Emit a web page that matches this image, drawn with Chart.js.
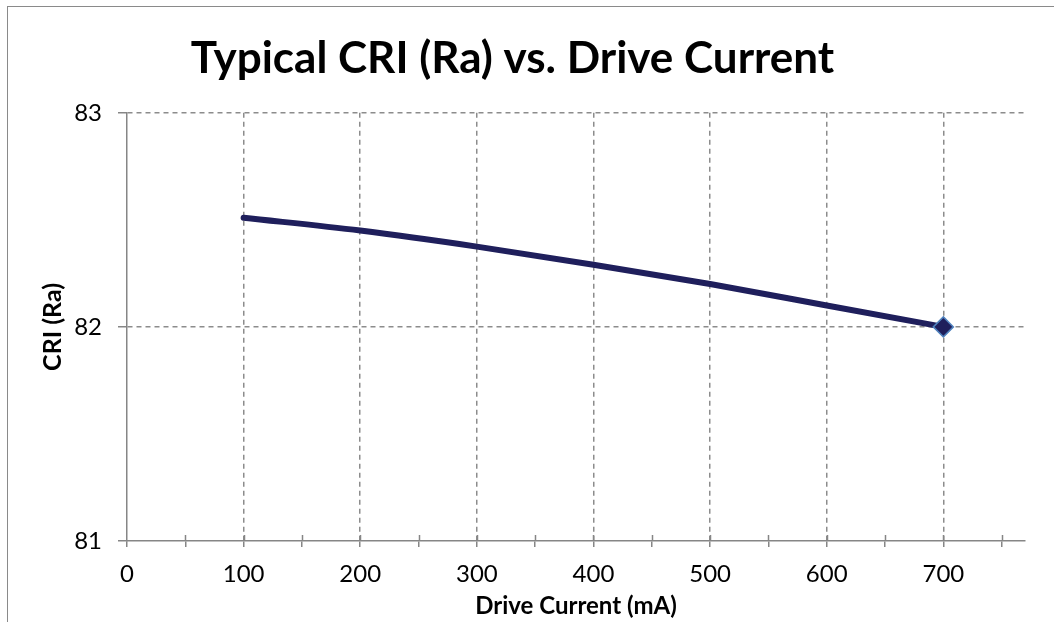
<!DOCTYPE html>
<html>
<head>
<meta charset="utf-8">
<script src="https://cdn.jsdelivr.net/npm/chart.js@4"></script>
<style>
  html, body { margin: 0; padding: 0; background: #fff; }
  #wrap { position: relative; width: 1054px; height: 622px; overflow: hidden; }
  #frame { position: absolute; left: 7px; top: 6px; width: 1100px; height: 700px; border: 1.5px solid #8a8a8a; box-sizing: border-box; }
  canvas { position: absolute; left: 0; top: 0; }
</style>
</head>
<body>
<div id="wrap">
  <div id="frame"></div>
  <canvas id="chart" width="1054" height="622"></canvas>
</div>
<script>
// drive current in mA, CRI
const currents = [100, 200, 300, 400, 500, 600, 700];
const cri = [82.51, 82.45, 82.375, 82.29, 82.2, 82.1, 82.0];
// only the last point carries a marker
const markerSize = [0, 0, 0, 0, 0, 0, 10];

const xTicks = [0, 100, 200, 300, 400, 500, 600, 700];
const yTicks = [81, 82, 83];

const gridColor = '#8c8c8c';
const axisColor = '#868686';
const font = 'Lato';

// excel style cross ticks: draw the inner half of each tick mark
const crossTicks = {
  id: 'crossTicks',
  afterDraw(c) {
    const ctx = c.ctx;
    const xs = c.scales.x;
    ctx.save();
    ctx.strokeStyle = axisColor;
    ctx.lineWidth = 1.5;
    xs.ticks.forEach(t => {
      if (t.value % 50 !== 0 || t.value === 0) return;
      const px = Math.round(xs.getPixelForValue(t.value)) + 0.5;
      ctx.beginPath();
      ctx.moveTo(px, xs.top - 6);
      ctx.lineTo(px, xs.top);
      ctx.stroke();
    });
    ctx.restore();
  }
};

const ctx = document.getElementById('chart').getContext('2d');
new Chart(ctx, {
  type: 'line',
  data: {
    datasets: [{
      data: currents.map((x, i) => ({ x, y: cri[i] })),
      borderColor: '#1f1f5c',
      borderWidth: 6,
      tension: 0.4,
      cubicInterpolationMode: 'monotone',
      pointStyle: 'rectRot',
      pointRadius: markerSize,
      pointBackgroundColor: '#1f1f5c',
      pointBorderColor: '#4f81bd',
      pointBorderWidth: 1.5,
      borderCapStyle: 'round'
    }]
  },
  options: {
    responsive: false,
    animation: false,
    layout: { padding: { left: 0, right: 29, top: 0, bottom: 0 } },
    plugins: {
      legend: { display: false },
      tooltip: { enabled: false },
      title: {
        display: true,
        text: 'Typical CRI (Ra) vs. Drive Current',
        color: '#000',
        font: { family: font, size: 44, weight: 'bold', lineHeight: 1.2 },
        padding: { top: 32, bottom: 28 }
      }
    },
    scales: {
      x: {
        type: 'linear',
        min: 0,
        max: 770,
        afterBuildTicks: s => {
          const ticks = [];
          for (let v = 0; v <= 750; v += 50) ticks.push({ value: v });
          s.ticks = ticks;
        },
        afterFit: s => { s.height = 81; },
        ticks: {
          color: '#000',
          font: { family: font, size: 24 },
          padding: 13,
          autoSkip: false,
          maxRotation: 0,
          callback: v => (xTicks.includes(v) ? String(v) : '')
        },
        grid: {
          color: c => (c.tick && c.tick.value % 100 === 0 && c.tick.value !== 0 ? gridColor : 'rgba(0,0,0,0)'),
          lineWidth: 1.5,
          tickLength: 6,
          tickWidth: 1.5,
          tickColor: axisColor
        },
        border: { display: true, color: axisColor, width: 1.5, dash: [5, 4] },
        title: {
          display: true,
          text: 'Drive Current (mA)',
          color: '#000',
          font: { family: font, size: 24, weight: 'bold' },
          padding: { top: 0, bottom: 1 }
        }
      },
      y: {
        type: 'linear',
        min: 81,
        max: 83,
        afterBuildTicks: s => { s.ticks = yTicks.map(v => ({ value: v })); },
        afterFit: s => { s.width = 127; },
        ticks: {
          color: '#000',
          font: { family: font, size: 24 },
          padding: 16
        },
        grid: {
          color: c => (c.tick && c.tick.value !== 81 ? gridColor : 'rgba(0,0,0,0)'),
          lineWidth: 1.5,
          tickLength: 9,
          tickWidth: 1.5,
          tickColor: axisColor
        },
        border: { display: true, color: axisColor, width: 1.5, dash: [5, 4] },
        title: {
          display: true,
          text: 'CRI (Ra)',
          color: '#000',
          font: { family: font, size: 25, weight: 'bold' },
          padding: { top: 38, bottom: 0 }
        }
      }
    }
  },
  plugins: [crossTicks]
});
</script>
</body>
</html>
